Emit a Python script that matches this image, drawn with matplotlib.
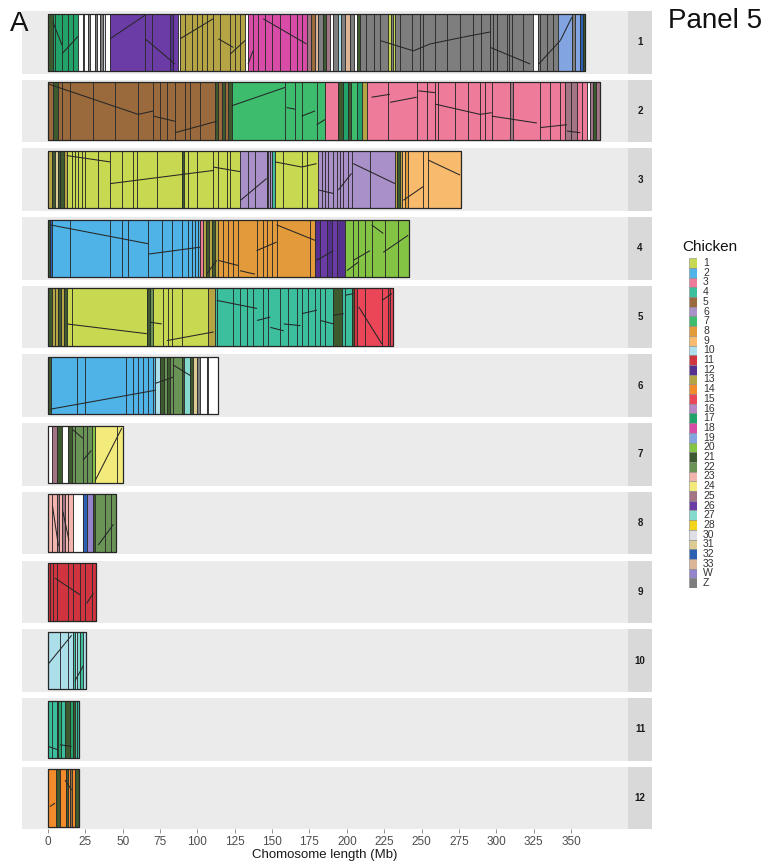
import matplotlib
matplotlib.use("Agg")
import matplotlib.pyplot as plt
import numpy as np

plt.rcParams['font.family'] = ['Liberation Sans', 'DejaVu Sans']

# Chicken chromosome palette (legend order)
chicken_labels = ['1', '2', '3', '4', '5', '6', '7', '8', '9', '10', '11', '12', '13', '14',
                  '15', '16', '17', '18', '19', '20', '21', '22', '23', '24', '25', '26', '27',
                  '28', '30', '31', '32', '33', 'W', 'Z']
chicken_colors = ['#c8d850', '#4fb3e8', '#ef7b9b', '#3bbf9d', '#9a6a3c', '#a990c8', '#3cbc6c',
                  '#e29a3a', '#f8ba6c', '#acdfe9', '#d0343f', '#56308e', '#b4a444', '#f28b2c',
                  '#ea4658', '#b785c4', '#22a36a', '#d84ca8', '#82a4e0', '#84c444', '#3d5a2e',
                  '#6a9456', '#f2b4ac', '#f2ea7a', '#a37484', '#6c3ca6', '#84dace', '#f2d41a',
                  '#dedfe6', '#dccb92', '#2c62b4', '#dcb496', '#9484cc', '#7e7e7e']
unassigned_color = '#ffffff'

chromosomes = ['1', '2', '3', '4', '5', '6', '7', '8', '9', '10', '11', '12']

# Synteny blocks: (start Mb, end Mb, chicken chromosome)
blocks_1 = [
    (0, 3.3, '21'), (3.3, 4.7, '17'), (4.7, 9.4, '17'), (9.4, 13.4, '17'), (13.4, 16.7, '17'), (16.7, 20.1, '17'),
    (20.1, 23.4, 'NA'), (23.4, 24.4, 'Z'), (24.4, 26.8, 'NA'), (26.8, 28, 'Z'), (28, 31.5, 'NA'), (31.5, 33, 'Z'),
    (33, 34.8, 'NA'), (34.8, 36.5, 'Z'), (36.5, 38.2, '30'), (38.2, 41.5, 'NA'),
    (41.5, 64.9, '26'), (64.9, 69.6, '26'), (69.6, 81.7, '26'), (81.7, 83.7, '12'), (83.7, 87, '26'),
    (87, 88.4, 'NA'),
    (88.4, 91.7, '13'), (91.7, 96.4, '13'), (96.4, 99.7, '13'), (99.7, 103, '13'), (103, 106.4, '13'),
    (106.4, 110.4, '13'), (110.4, 115.1, '13'), (115.1, 121.8, '13'), (121.8, 125.2, '13'), (125.2, 128.5, '13'),
    (128.5, 131.9, '13'),
    (131.9, 133.9, 'NA'),
    (133.9, 137.2, '18'), (137.2, 140.6, '18'), (140.6, 145.2, '18'), (145.2, 149.9, '18'), (149.9, 155.3, '18'),
    (155.3, 162, '18'), (162, 166.7, '18'), (166.7, 170, '18'), (170, 173.4, '18'),
    (173.4, 176, '25'), (176, 178.5, '5'), (178.5, 181, '33'), (181, 184, 'Z'), (184, 186, '21'), (186, 189, '25'),
    (189, 191, 'NA'), (191, 194, 'Z'), (194, 196, '10'), (196, 199, 'Z'), (199, 202, '33'), (202, 205, 'Z'),
    (205, 207, 'NA'), (207, 208.8, '21'),
    (208.8, 213, 'Z'), (213, 218, 'Z'), (218, 222, 'Z'), (222, 227.6, 'Z'), (227.6, 229.5, '1'), (229.5, 231, 'Z'),
    (231, 232.3, '1'), (232.3, 235.6, 'Z'), (235.6, 243.6, 'Z'), (243.6, 249, 'Z'), (249, 251, 'Z'), (251, 259, 'Z'),
    (259, 267, 'Z'), (267, 275.8, 'Z'), (275.8, 284.5, 'Z'), (284.5, 290, 'Z'), (290, 296, 'Z'), (296, 298, 'Z'),
    (298, 300.6, 'Z'), (300.6, 307, 'Z'), (307, 308.8, 'Z'), (308.8, 310.6, 'Z'), (310.6, 317.9, 'Z'),
    (317.9, 324.6, 'Z'), (324.6, 328, 'NA'), (328, 329.3, 'Z'), (329.3, 334, 'Z'), (334, 338, 'Z'),
    (338, 341.4, 'Z'), (341.4, 350.7, '19'), (350.7, 353, 'Z'), (353, 356, '19'), (356, 358, '32'),
    (358, 359.4, '21'),
]
blocks_2 = [
    (0, 3.3, '5'), (3.3, 6.7, '21'), (6.7, 9.4, '5'), (9.4, 14.7, '5'), (14.7, 30, '5'), (30, 45, '5'),
    (45, 60.4, '5'), (60.4, 70.3, '5'), (70.3, 75, '5'), (75, 79.6, '5'), (79.6, 85, '5'), (85, 91.7, '5'),
    (91.7, 95, '5'), (95, 101.7, '5'), (101.7, 111.8, '5'), (111.8, 113.8, '21'), (113.8, 116.5, '5'),
    (116.5, 118.5, '21'), (118.5, 120.5, '5'), (120.5, 123, '21'),
    (123, 158.6, '7'), (158.6, 165.3, '7'), (165.3, 170, '7'), (170, 180, '7'), (180, 185.4, '7'),
    (185.4, 194, '3'), (194, 197.5, '21'), (197.5, 200.8, '17'), (200.8, 203, '21'), (203, 207, '7'),
    (207, 210, '17'), (210, 213.5, '13'),
    (213.5, 227.6, '3'), (227.6, 247, '3'), (247, 253.7, '3'), (253.7, 259, '3'), (259, 261, '3'),
    (261, 272.4, '3'), (272.4, 281, '3'), (281, 289, '3'), (289, 292.5, '3'), (292.5, 297.2, '3'),
    (297.2, 309.2, '3'), (309.2, 311.2, '25'), (311.2, 329.3, '3'), (329.3, 336, '3'), (336, 342.7, '3'),
    (342.7, 346, '3'), (346, 350, '25'), (350, 354, '25'), (354, 357.4, '3'), (357.4, 360.8, '3'),
    (360.8, 362.8, 'NA'), (362.8, 364.8, '25'), (364.8, 366.5, '21'), (366.5, 369.5, '25'),
]
blocks_3 = [
    (0, 2.7, '13'), (2.7, 4.7, '21'), (4.7, 6.7, '31'), (6.7, 8, '21'), (8, 10.7, '21'), (10.7, 12.7, '13'),
    (12.7, 16, '1'), (16, 18, '1'), (18, 20, '1'), (20, 22.8, '1'), (22.8, 24.8, '1'), (24.8, 33.5, '1'),
    (33.5, 41.5, '1'), (41.5, 49.5, '1'), (49.5, 56.9, '1'), (56.9, 59.6, '1'), (59.6, 73, '1'), (73, 89.7, '1'),
    (89.7, 91, '21'), (91, 93.7, '1'), (93.7, 99.7, '1'), (99.7, 110.4, '1'), (110.4, 113.8, '1'),
    (113.8, 119.8, '1'), (119.8, 121.8, '1'), (121.8, 128.5, '1'),
    (128.5, 134, '6'), (134, 138.5, '6'), (138.5, 146.6, '6'), (146.6, 147.3, '21'), (147.3, 148.6, '6'),
    (148.6, 150.2, '6'), (150.2, 152, '4'),
    (152, 157.3, '1'), (157.3, 170, '1'), (170, 173.4, '1'), (173.4, 180.7, '1'),
    (180.7, 183.4, '6'), (183.4, 185.4, '6'), (185.4, 187.4, '6'), (187.4, 190.8, '6'), (190.8, 193.4, '6'),
    (193.4, 195.4, '6'), (195.4, 197.5, '6'), (197.5, 200.8, '6'), (200.8, 203.5, '6'), (203.5, 215.5, '6'),
    (215.5, 232.3, '6'),
    (232.3, 233.5, '13'), (233.5, 235.5, '21'), (235.5, 237, '13'),
    (237, 239, '9'), (239, 241, '8'), (241, 251, '9'), (251, 254.4, '9'), (254.4, 276.3, '9'),
]
blocks_4 = [
    (0, 1.3, '21'), (1.3, 2.7, '32'), (2.7, 14.7, '2'), (14.7, 41.5, '2'), (41.5, 49.5, '2'), (49.5, 53.5, '2'),
    (53.5, 67, '2'), (67, 76.3, '2'), (76.3, 83, '2'), (83, 89.7, '2'), (89.7, 93.7, '2'), (93.7, 96.4, '2'),
    (96.4, 98.4, '2'), (98.4, 100.4, '2'), (100.4, 101.7, '2'),
    (101.7, 103.5, '3'), (103.5, 106, '13'), (106, 108, '21'), (108, 110, '13'), (110, 111.5, '21'),
    (111.5, 114, '13'),
    (114, 117, '8'), (117, 120.5, '8'), (120.5, 123.8, '8'), (123.8, 127.2, '8'), (127.2, 140, '8'),
    (140, 144, '8'), (144, 146.6, '8'), (146.6, 150, '8'), (150, 153.3, '8'), (153.3, 175.4, '8'),
    (175.4, 178.7, '8'),
    (178.7, 182, '12'), (182, 186.7, '26'), (186.7, 190, '12'), (190, 193.4, '26'), (193.4, 199, '12'),
    (199, 204, '20'), (204, 207.5, '20'), (207.5, 212, '20'), (212, 217, '20'), (217, 225.6, '20'),
    (225.6, 234, '20'), (234, 241.6, '20'),
]
blocks_5 = [
    (0, 2.7, '21'), (2.7, 4.7, '13'), (4.7, 6.7, '13'), (6.7, 8.7, '21'), (8.7, 10.7, '13'), (10.7, 12.7, '21'),
    (12.7, 16, '1'), (16, 66.3, '1'), (66.3, 68, '21'), (68, 70.3, '22'),
    (70.3, 77, '1'), (77, 80.3, '1'), (80.3, 83, '1'), (83, 89.7, '1'), (89.7, 107, '1'), (107, 111.8, '13'),
    (111.8, 113, '4'), (113, 123.8, '4'), (123.8, 128.5, '4'), (128.5, 133.2, '4'), (133.2, 137.2, '4'),
    (137.2, 144, '4'), (144, 147.3, '4'), (147.3, 155.3, '4'), (155.3, 160.6, '4'), (160.6, 166.7, '4'),
    (166.7, 170, '4'), (170, 174, '4'), (174, 178.7, '4'), (178.7, 182, '4'), (182, 185.4, '4'),
    (185.4, 190.8, '4'), (190.8, 196.8, '21'), (196.8, 198.8, '4'), (198.8, 203.5, '4'),
    (203.5, 205, '21'), (205, 206.8, '11'),
    (206.8, 212, '15'), (212, 223.6, '15'), (223.6, 227.6, '15'), (227.6, 229, '11'), (229, 231, '15'),
]
blocks_6 = [
    (0, 2, '21'), (2, 19.4, '2'), (19.4, 24.8, '2'), (24.8, 52.2, '2'), (52.2, 56.9, '2'), (56.9, 60.2, '2'),
    (60.2, 63.6, '2'), (63.6, 67, '2'), (67, 70.3, '2'), (70.3, 71.6, '2'),
    (71.6, 75, '10'), (75, 77.5, '21'), (77.5, 79.7, '22'), (79.7, 81.7, '21'), (81.7, 83.7, '22'),
    (83.7, 89.7, '22'), (89.7, 91, '21'), (91, 95, '27'), (95, 97, '21'), (97, 99.7, '31'), (99.7, 101.7, 'Z'),
    (101.7, 106.4, 'NA'), (106.4, 107, 'Z'), (107, 114, 'NA'),
]
blocks_7 = [
    (0, 2.7, 'NA'), (2.7, 6, '25'), (6, 9.4, '21'), (9.4, 13.4, 'NA'), (13.4, 16, '21'), (16, 18, '22'),
    (18, 23.4, '22'), (23.4, 26, '22'), (26, 29.5, '22'), (29.5, 31.5, '20'), (31.5, 46, '24'), (46, 50, '24'),
]
blocks_8 = [
    (0, 3, '23'), (3, 6, '23'), (6, 7.5, '25'), (7.5, 9.4, '23'), (9.4, 11.5, '25'), (11.5, 13.4, '23'),
    (13.4, 16.7, '23'), (16.7, 23.4, 'NA'), (23.4, 26, '32'), (26, 30, 'W'), (30, 31.5, '21'),
    (31.5, 38, '22'), (38, 42, '22'), (42, 45.5, '22'),
]
blocks_9 = [
    (0, 1.5, '11'), (1.5, 3.3, '11'), (3.3, 6, '11'), (6, 13.4, '11'), (13.4, 16.7, '11'), (16.7, 21.4, '11'),
    (21.4, 24.8, '11'), (24.8, 29.5, '11'), (29.5, 32, '11'),
]
blocks_10 = [
    (0, 8, '10'), (8, 13.4, '10'), (13.4, 16.7, '10'), (16.7, 18, '4'), (18, 19.4, '10'), (19.4, 21.4, '27'),
    (21.4, 23.4, '4'), (23.4, 25.4, '10'),
]
blocks_11 = [
    (0, 3, '4'), (3, 6, '4'), (6, 6.7, '21'), (6.7, 9, '17'), (9, 11.4, '4'), (11.4, 14.7, '21'),
    (14.7, 16.7, '17'), (16.7, 18, '21'), (18, 19.4, '4'), (19.4, 20.8, '4'),
]
blocks_12 = [
    (0, 5.4, '14'), (5.4, 8, '21'), (8, 12, '14'), (12, 13.4, '21'), (13.4, 14.7, '14'), (14.7, 16, '5'),
    (16, 18, '14'), (18, 20.8, '21'),
]

# Position links inside blocks: (start Mb, relative position, end Mb, relative position)
links_1 = [(3.3, 0.85, 9.4, 0.45), (9.4, 0.3, 20, 0.6), (41.5, 0.56, 64.9, 0.97), (65.5, 0.55, 85, 0.12),
           (88.4, 0.56, 110.6, 0.91), (114, 0.56, 124, 0.41), (121.8, 0.29, 131.9, 0.53),
           (133.9, 0.12, 137.2, 0.35), (144, 0.91, 173, 0.47), (222.2, 0.53, 244.6, 0.35),
           (244.6, 0.35, 255.7, 0.47), (255.7, 0.47, 278, 0.59), (278, 0.59, 296, 0.68),
           (296, 0.41, 322.8, 0.12), (328.4, 0.12, 342.9, 0.53), (342.9, 0.53, 350.7, 0.94)]
links_2 = [(0.2, 0.97, 60.4, 0.44), (60.4, 0.44, 70.5, 0.5), (70.5, 0.41, 85, 0.32), (85, 0.12, 112.9, 0.32),
           (123, 0.59, 158.6, 0.91), (159.7, 0.56, 165.3, 0.53), (169.8, 0.41, 178.7, 0.5),
           (179.8, 0.26, 185.4, 0.35), (216.6, 0.74, 228.9, 0.79), (228.9, 0.65, 246.8, 0.74),
           (247.9, 0.85, 259, 0.82), (259, 0.62, 289.2, 0.44), (289.2, 0.44, 297, 0.47),
           (297, 0.41, 327.2, 0.29), (329.5, 0.21, 347.3, 0.26), (347.3, 0.15, 356.3, 0.12)]
links_3 = [(12.5, 0.92, 41.5, 0.81), (41.5, 0.43, 110.6, 0.66), (110.6, 0.72, 128.5, 0.64),
           (128.9, 0.14, 146.3, 0.52), (151.9, 0.81, 169.8, 0.72), (169.8, 0.72, 179.8, 0.78),
           (180.9, 0.32, 190.9, 0.26), (194.3, 0.32, 203.2, 0.61), (204.3, 0.78, 232.3, 0.43),
           (237.8, 0.14, 251.2, 0.38), (254.6, 0.84, 275.8, 0.58)]
links_4 = [(1.3, 0.91, 67.2, 0.58), (67.2, 0.4, 101.7, 0.52), (106.2, 0.05, 112.9, 0.29), (114, 0.29, 127.4, 0.2),
           (128.5, 0.11, 138.5, 0.05), (139.6, 0.46, 153, 0.61), (153, 0.91, 178.7, 0.64),
           (179.8, 0.29, 191, 0.46), (200, 0.11, 207.7, 0.26), (204.3, 0.29, 215.5, 0.46),
           (216.6, 0.91, 224.4, 0.76), (224.4, 0.43, 241.1, 0.73)]
links_5 = [(12.5, 0.38, 66.1, 0.21), (68.3, 0.41, 76.1, 0.38), (79.6, 0.09, 110.8, 0.24), (113, 0.79, 139.9, 0.65),
           (139.9, 0.44, 148.8, 0.5), (148.8, 0.32, 157.8, 0.26), (157.8, 0.38, 169, 0.35),
           (170, 0.56, 180, 0.62), (182.3, 0.44, 191.2, 0.38), (191.2, 0.53, 197.9, 0.56),
           (199, 0.88, 204.6, 0.91), (207.9, 0.68, 223.5, 0.03), (223.5, 0.79, 230.2, 0.91)]
links_6 = [(1.3, 0.09, 71.6, 0.42), (71.6, 0.54, 83.9, 0.65), (83.9, 0.86, 95.1, 0.68)]
links_7 = [(16.7, 0.93, 23.4, 0.78), (23.4, 0.4, 29, 0.57), (31.5, 0.04, 49.4, 0.96)]
links_8 = [(3, 0.8, 7, 0.1), (10, 0.7, 14, 0.2), (33.7, 0.12, 43.8, 0.48)]
links_9 = [(4.7, 0.74, 21.4, 0.45), (25.9, 0.3, 30.4, 0.48)]
links_10 = [(0.2, 0.44, 15.8, 0.94), (18.1, 0.15, 23.7, 0.41)]
links_11 = [(0.2, 0.2, 6.9, 0.14), (8, 0.23, 15.8, 0.2)]
links_12 = [(1.3, 0.35, 4.7, 0.41), (11.4, 0.81, 15.8, 0.64)]

all_blocks = [blocks_1, blocks_2, blocks_3, blocks_4, blocks_5, blocks_6,
              blocks_7, blocks_8, blocks_9, blocks_10, blocks_11, blocks_12]
all_links = [links_1, links_2, links_3, links_4, links_5, links_6,
             links_7, links_8, links_9, links_10, links_11, links_12]

x_ticks = [0, 25, 50, 75, 100, 125, 150, 175, 200, 225, 250, 275, 300, 325, 350]

color_of = dict(zip(chicken_labels, chicken_colors))
color_of['NA'] = unassigned_color

W, H = 772, 864
fig = plt.figure(figsize=(W / 100, H / 100), dpi=100)
fig.patch.set_facecolor('white')

panel_left, panel_right = 22, 628
strip_w = 24
panel_h = 62.5
pitch = 68.7
first_top = 11
edge = '#2a2a2a'

for i, chrom in enumerate(chromosomes):
    top = first_top + i * pitch
    bottom = 1 - (top + panel_h) / H
    ax = fig.add_axes([panel_left / W, bottom, (panel_right - panel_left) / W, panel_h / H])
    ax.set_facecolor('#ebebeb')
    ax.set_xlim(-17.4, 388.2)
    ax.set_ylim(-0.045, 1.045)
    for sp in ax.spines.values():
        sp.set_visible(False)

    blk = all_blocks[i]
    starts = np.array([b[0] for b in blk])
    ends = np.array([b[1] for b in blk])
    cols = [color_of[b[2]] for b in blk]
    ax.barh(0.5, ends - starts, left=starts, height=1, color=cols,
            edgecolor=edge, linewidth=0.6, zorder=2)
    ax.barh(0.5, ends.max() - starts.min(), left=starts.min(), height=1, fill=False,
            edgecolor='#262626', linewidth=0.9, zorder=4)
    for (x0, y0, x1, y1) in all_links[i]:
        ax.plot([x0, x1], [y0, y1], color='#262626', linewidth=0.75, zorder=3,
                solid_capstyle='butt')

    ax.set_yticks([])
    if i == len(chromosomes) - 1:
        ax.set_xticks(x_ticks)
        ax.set_xticklabels([str(t) for t in x_ticks])
        ax.tick_params(axis='x', length=3, width=0.6, color='#7f7f7f',
                       labelcolor='#4d4d4d', labelsize=8.5, pad=2)
    else:
        ax.set_xticks([])

    sax = fig.add_axes([panel_right / W, bottom, strip_w / W, panel_h / H])
    sax.set_facecolor('#d9d9d9')
    sax.set_xticks([])
    sax.set_yticks([])
    for sp in sax.spines.values():
        sp.set_visible(False)
    sax.text(0.5, 0.5, chrom, ha='center', va='center', fontsize=7,
             fontweight='bold', color='#1a1a1a', transform=sax.transAxes)

fig.text((panel_left + panel_right) / 2 / W, 1 - 855 / H, 'Chomosome length (Mb)',
         ha='center', va='center', fontsize=9.5, color='#1a1a1a')

fig.text(10 / W, 1 - 24 / H, 'A', ha='left', va='center', fontsize=20, color='#111111')
fig.text(668 / W, 1 - 21 / H, 'Panel 5', ha='left', va='center', fontsize=20, color='#111111')

# Legend
n = len(chicken_labels)
key_pitch = 9.7
leg_top = 258.2
lax = fig.add_axes([689 / W, 1 - (leg_top + n * key_pitch) / H, 8 / W, n * key_pitch / H])
lax.set_xlim(0, 1)
lax.set_ylim(n, 0)
lax.barh(np.arange(n) + 0.5, 1, left=0, height=1, color=chicken_colors,
         edgecolor='#8a8a8a', linewidth=0.4)
lax.axis('off')
for k, lab in enumerate(chicken_labels):
    lax.text(1.75, k + 0.5, lab, ha='left', va='center', fontsize=7.5,
             color='#333333', clip_on=False)
fig.text(682 / W, 1 - 247 / H, 'Chicken', ha='left', va='center', fontsize=11, color='#111111')

fig.savefig('out.png', dpi=100, facecolor='white')
